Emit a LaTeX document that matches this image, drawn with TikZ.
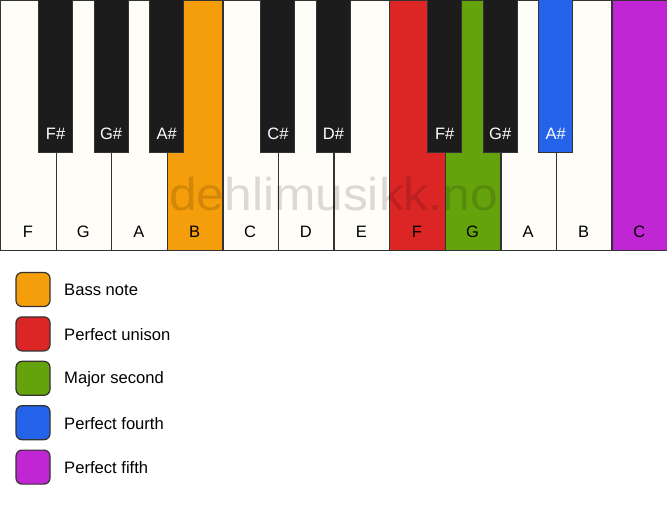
\documentclass[tikz,border=0pt]{standalone}
\usepackage{fontspec}
\setmainfont{Liberation Sans}
\definecolor{keywhite}{HTML}{FFFDF8}
\definecolor{keyblack}{HTML}{1C1C1C}
\definecolor{edge}{HTML}{333333}
\definecolor{cbass}{HTML}{F59E0B}
\definecolor{cunison}{HTML}{DC2626}
\definecolor{csecond}{HTML}{65A30D}
\definecolor{cfourth}{HTML}{2563EB}
\definecolor{cfifth}{HTML}{C026D3}
\begin{document}
\begin{tikzpicture}[x=1pt,y=-1pt,
  whitekey/.style={draw=edge,line width=1.3pt,minimum width=55.58pt,minimum height=250pt,anchor=north west,inner sep=0pt,fill=keywhite},
  blackkey/.style={draw=edge,line width=1pt,minimum width=34pt,minimum height=153pt,anchor=north,inner sep=0pt,fill=keyblack},
  wlabel/.style={font=\fontsize{16.5}{16.5}\selectfont,text=black,anchor=base},
  blabel/.style={font=\fontsize{16.5}{16.5}\selectfont,text=white,anchor=base},
  legbox/.style={draw=edge,line width=1.2pt,rounded corners=6pt,minimum size=34pt,inner sep=0pt},
  legtext/.style={font=\fontsize{16.6}{16.6}\selectfont,anchor=west,inner sep=0pt},
  watermark/.style={font=\fontsize{46}{46}\selectfont,text=black,text opacity=0.14,xscale=1.08}]
\useasboundingbox (0,0) rectangle (667,506);
\fill[white] (0,0) rectangle (667,506);
% white keys
\foreach \i/\n/\c in {0/F/keywhite,1/G/keywhite,2/A/keywhite,3/B/cbass,4/C/keywhite,5/D/keywhite,6/E/keywhite,7/F/cunison,8/G/csecond,9/A/keywhite,10/B/keywhite,11/C/cfifth}{
  \node[whitekey,fill=\c] (w\i) at (\i*55.583,0) {};
  \node[wlabel] (lw\i) at (\i*55.583+27.8,237) {\n};
}
% black keys
\foreach \i/\n/\c in {1/F\#/keyblack,2/G\#/keyblack,3/A\#/keyblack,5/C\#/keyblack,6/D\#/keyblack,8/F\#/keyblack,9/G\#/keyblack,10/A\#/cfourth}{
  \node[blackkey,fill=\c] (b\i) at (\i*55.583,-1) {};
  \node[blabel] (lb\i) at (\i*55.583,139) {\n};
}
% watermark
\node[watermark] (wm) at (333.5,194) {dehlimusikk.no};
% legend
\foreach \k/\c/\t in {0/cbass/Bass note,1/cunison/Perfect unison,2/csecond/Major second,3/cfourth/Perfect fourth,4/cfifth/Perfect fifth}{
  \node[legbox,fill=\c] (lg\k) at (33,289.5+\k*44.4) {};
  \node[legtext] (lt\k) at (64,290+\k*44.4) {\t};
}
\end{tikzpicture}
\end{document}
